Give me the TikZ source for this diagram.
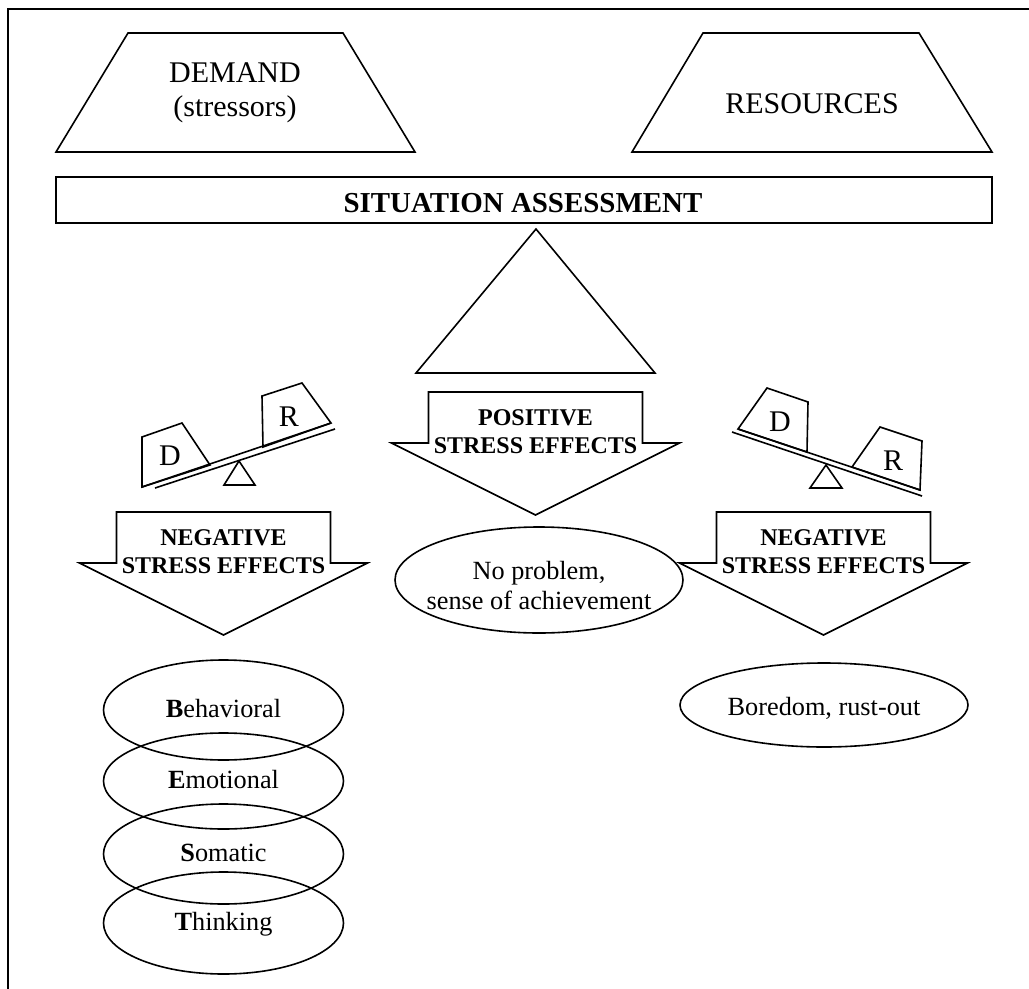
\documentclass[tikz,border=0pt]{standalone}
\usepackage{fontspec}
\setmainfont{Liberation Serif}
\usepackage{tikz}
\newcommand{\figunit}{0.75pt}
\newcommand{\stressarrow}[4]{
	\draw (#2-107,#3) -- (#2+107,#3) -- (#2+107,#3+51) -- (#2+144,#3+51) -- (#2,#3+123) -- (#2-144,#3+51) -- (#2-107,#3+51) -- cycle;
	\node[arrowtext] (#1) at (#2,#3+40) {#4};
}

\begin{document}
\begin{tikzpicture}[x=\figunit,y=-\figunit,line width=1.2pt,
	toptext/.style={align=center,inner sep=0pt,font=\fontsize{22.5}{25.5}\selectfont},
	headtext/.style={inner sep=0pt,font=\fontsize{21.7}{26}\selectfont\bfseries},
	arrowtext/.style={align=center,inner sep=0pt,font=\fontsize{18}{21}\selectfont\bfseries},
	effecttext/.style={align=center,inner sep=0pt,font=\fontsize{19.7}{22.5}\selectfont},
	weighttext/.style={inner sep=0pt,font=\fontsize{22.5}{25}\selectfont}]
	\useasboundingbox (0,0) rectangle (1029,989);
	\draw (1029,9) -- (8,9) -- (8,989);

	% demand and resources
	\draw (128,33) -- (343,33) -- (415,152) -- (56,152) -- cycle;
	\draw (703,33) -- (919,33) -- (992,152) -- (632,152) -- cycle;
	\node[toptext] (demand) at (235,93) {DEMAND\\(stressors)};
	\node[toptext] (resources) at (812,104) {RESOURCES};

	% assessment
	\draw (56,177) rectangle (992,223);
	\node[headtext] (assess) at (523,203) {SITUATION ASSESSMENT};
	\draw (536,229) -- (655,373) -- (416,373) -- cycle;

	% stress arrows
	\stressarrow{positive}{535.5}{392}{POSITIVE\\STRESS EFFECTS}
	\stressarrow{negleft}{223.5}{512}{NEGATIVE\\STRESS EFFECTS}
	\stressarrow{negright}{823.5}{512}{NEGATIVE\\STRESS EFFECTS}

	% left balance
	\draw (142,437) -- (182,423) -- (210,465) -- (142,487) -- cycle;
	\draw (262,396) -- (302,383) -- (331,423) -- (263,447) -- cycle;
	\draw (142,487) -- (331,423);
	\draw (155,488) -- (335,429);
	\draw (224,485) -- (255,485) -- (239,461) -- cycle;
	\node[weighttext] (dleft) at (170,456) {D};
	\node[weighttext] (rleft) at (289,417) {R};

	% right balance
	\draw (767,388) -- (808,402) -- (807,452) -- (738,429) -- cycle;
	\draw (880,427) -- (922,441) -- (920,490) -- (852,467) -- cycle;
	\draw (738,429) -- (920,490);
	\draw (732,432) -- (922,496);
	\draw (810,488) -- (842,488) -- (826,465) -- cycle;
	\node[weighttext] (dright) at (780,422) {D};
	\node[weighttext] (rright) at (893,461) {R};

	% outcomes
	\draw (539,580) ellipse [x radius=144,y radius=53];
	\node[effecttext] (noproblem) at (539,586) {No problem,\\sense of achievement};
	\draw (824,705) ellipse [x radius=144,y radius=42];
	\node[effecttext] (boredom) at (824,708) {Boredom, rust-out};

	\draw (223.5,710) ellipse [x radius=120,y radius=50];
	\draw (223.5,781) ellipse [x radius=120,y radius=48];
	\draw (223.5,854) ellipse [x radius=120,y radius=50];
	\draw (223.5,923) ellipse [x radius=120,y radius=51];
	\node[effecttext] (behav) at (223.5,709) {\textbf{B}ehavioral};
	\node[effecttext] (emot) at (223.5,780) {\textbf{E}motional};
	\node[effecttext] (somat) at (223.5,853) {\textbf{S}omatic};
	\node[effecttext] (think) at (223.5,924) {\textbf{T}hinking};
\end{tikzpicture}
\end{document}
